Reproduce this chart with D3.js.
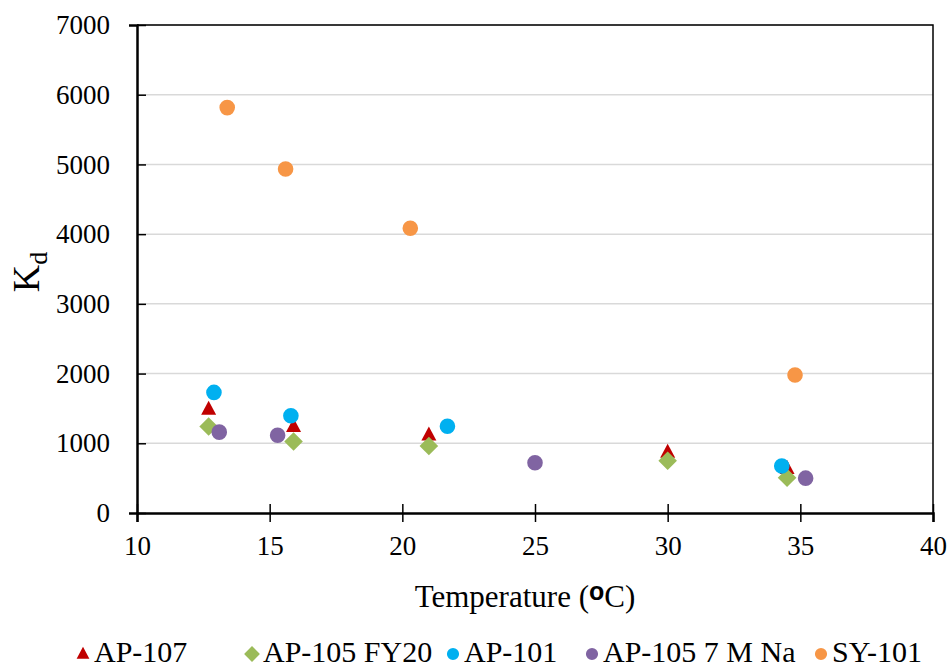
<!DOCTYPE html>
<html>
<head>
<meta charset="utf-8">
<script src="https://cdn.jsdelivr.net/npm/d3@7"></script>
<style>
  body { margin: 0; background: #fff; }
</style>
</head>
<body>
<div class="container"></div>
<script>
// values
const seriesNames = ["AP-107", "AP-105 FY20", "AP-101", "AP-105 7 M Na", "SY-101"];
const ap107Temp = [12.7, 15.9, 21.0, 30.0, 34.5];
const ap107Kd   = [1490, 1240, 1120, 870, 640];
const fy20Temp  = [12.7, 15.9, 21.0, 30.0, 34.5];
const fy20Kd    = [1240, 1025, 960, 750, 505];
const ap101Temp = [12.9, 15.8, 21.7, 34.3];
const ap101Kd   = [1730, 1395, 1245, 675];
const naTemp    = [13.1, 15.3, 25.0, 35.2];
const naKd      = [1160, 1115, 720, 500];
const sy101Temp = [13.4, 15.6, 20.3, 34.8];
const sy101Kd   = [5815, 4935, 4085, 1980];
const xTicks = [10, 15, 20, 25, 30, 35, 40];
const yTicks = [0, 1000, 2000, 3000, 4000, 5000, 6000, 7000];

const colors = ["#C00000", "#9BBB59", "#00B0F0", "#8064A2", "#F79646"];
const shapes = ["triangle", "diamond", "circle", "circle", "circle"];
const temps = [ap107Temp, fy20Temp, ap101Temp, naTemp, sy101Temp];
const kds = [ap107Kd, fy20Kd, ap101Kd, naKd, sy101Kd];

const FONT = "Liberation Serif";
const width = 948, height = 668;
const margin = {left: 137, right: 15, top: 25, bottom: 155};

let svg = d3.select(".container").append("svg")
  .attr("width", width)
  .attr("height", height)
  .attr("font-family", FONT);

const x = d3.scaleLinear().domain([10, 40]).range([margin.left, width - margin.right]);
const y = d3.scaleLinear().domain([0, 7000]).range([height - margin.bottom, margin.top]);

// gridlines
svg.append("g")
  .selectAll("line")
  .data(yTicks.slice(1))
  .enter()
  .append("line")
  .attr("x1", x(10)).attr("x2", x(40))
  .attr("y1", d => y(d)).attr("y2", d => y(d))
  .style("stroke", "#d9d9d9")
  .attr("stroke-width", 1.5);

// plot border top/right
svg.append("path")
  .attr("d", `M${x(10)},${y(7000)}H${x(40)}V${y(0)}`)
  .attr("fill", "none")
  .style("stroke", "#000")
  .attr("stroke-width", 1.5);

// axes with cross ticks
const xAxis = svg.append("g")
  .attr("transform", `translate(0, ${y(0)})`)
  .call(d3.axisBottom(x).tickValues(xTicks).tickSize(9).tickFormat(d3.format("d")));
xAxis.attr("font-family", FONT).attr("font-size", 27);
xAxis.selectAll(".tick line").attr("y1", -9).attr("stroke-width", 1.5);
xAxis.select(".domain").attr("stroke-width", 2.5);
xAxis.selectAll("text")
  .attr("y", 23)
  .attr("font-family", FONT)
  .attr("fill", "#000");

const yAxis = svg.append("g")
  .attr("transform", `translate(${x(10)}, 0)`)
  .call(d3.axisLeft(y).tickValues(yTicks).tickSize(8).tickFormat(d3.format("d")));
yAxis.attr("font-family", FONT).attr("font-size", 27);
yAxis.selectAll(".tick line").attr("x2", 9).attr("stroke-width", 1.5);
yAxis.select(".domain").attr("stroke-width", 2.5);
yAxis.selectAll("text")
  .attr("x", -27)
  .attr("font-family", FONT)
  .attr("fill", "#000");

function marker(shape) {
  if (shape == "triangle") return "M0,-8.5L7.5,5.5L-7.5,5.5Z";
  if (shape == "diamond") return "M0,-9.3L9.3,0L0,9.3L-9.3,0Z";
  return d3.symbol(d3.symbolCircle, Math.PI * 7.8 * 7.8)();
}

// points
seriesNames.forEach((name, s) => {
  svg.append("g")
    .selectAll("path")
    .data(temps[s].map((t, i) => [t, kds[s][i]]))
    .enter()
    .append("path")
    .attr("transform", d => `translate(${x(d[0])}, ${y(d[1])})`)
    .attr("d", marker(shapes[s]))
    .attr("fill", colors[s]);
});

// axis titles
const xt = svg.append("text")
  .attr("x", 525)
  .attr("y", 607)
  .attr("text-anchor", "middle")
  .attr("font-family", FONT)
  .attr("font-size", 31);
xt.append("tspan").text("Temperature (");
xt.append("tspan").text("o").attr("font-weight", "bold")
  .attr("font-family", "Liberation Sans")
  .attr("font-size", 25).attr("dy", -7);
xt.append("tspan").text("C)").attr("dy", 7);

const yt = svg.append("text")
  .attr("transform", "translate(39, 272) rotate(-90)")
  .attr("text-anchor", "middle")
  .attr("font-family", FONT)
  .attr("font-size", 38);
yt.append("tspan").text("K");
yt.append("tspan").text("d").attr("font-size", 26).attr("dy", 8);

// legend
const legendX = [83, 252, 453, 592, 821];
const legend = svg.append("g")
  .selectAll("g")
  .data(seriesNames)
  .enter()
  .append("g")
  .attr("transform", (d, i) => `translate(${legendX[i]}, 654)`);
legend.append("path")
  .attr("d", (d, i) => marker(shapes[i]))
  .attr("transform", (d, i) => shapes[i] == "circle" ? "scale(0.78)" : "scale(0.85)")
  .attr("fill", (d, i) => colors[i]);
legend.append("text")
  .attr("x", 11)
  .attr("y", 8)
  .attr("font-family", FONT)
  .attr("font-size", 30)
  .text(d => d);
</script>
</body>
</html>
